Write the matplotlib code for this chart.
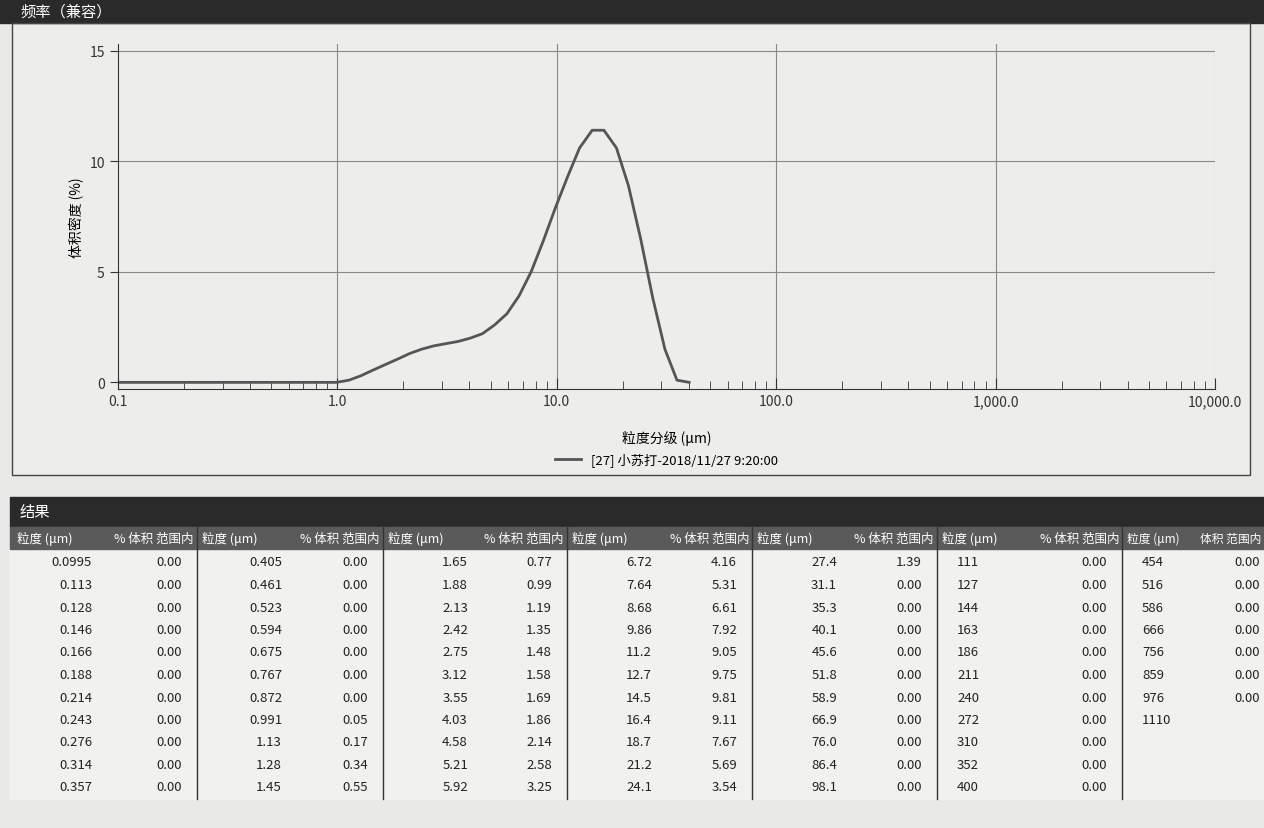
import matplotlib
matplotlib.use("Agg")
import matplotlib.pyplot as plt
import numpy as np
from matplotlib.patches import Rectangle

plt.rcParams['font.family'] = ['Noto Sans CJK SC', 'DejaVu Sans']

curve_x = [0.1, 0.991, 1.13, 1.28, 1.45, 1.65, 1.88, 2.13, 2.42, 2.75, 3.12, 3.55, 4.03, 4.58,
           5.21, 5.92, 6.72, 7.64, 8.68, 9.86, 11.2, 12.7, 14.5, 16.4, 18.7, 21.2, 24.1,
           27.4, 31.1, 35.3, 40.1]
curve_y = [0.0, 0.0, 0.1, 0.3, 0.55, 0.8, 1.05, 1.3, 1.5, 1.65, 1.75, 1.85, 2.0, 2.2,
           2.6, 3.1, 3.9, 5.0, 6.4, 7.9, 9.3, 10.6, 11.4, 11.4, 10.6, 8.9, 6.5,
           3.8, 1.5, 0.1, 0.0]

sizes = ["0.0995","0.113","0.128","0.146","0.166","0.188","0.214","0.243","0.276","0.314","0.357",
         "0.405","0.461","0.523","0.594","0.675","0.767","0.872","0.991","1.13","1.28","1.45",
         "1.65","1.88","2.13","2.42","2.75","3.12","3.55","4.03","4.58","5.21","5.92",
         "6.72","7.64","8.68","9.86","11.2","12.7","14.5","16.4","18.7","21.2","24.1",
         "27.4","31.1","35.3","40.1","45.6","51.8","58.9","66.9","76.0","86.4","98.1",
         "111","127","144","163","186","211","240","272","310","352","400",
         "454","516","586","666","756","859","976","1110"]
pcts = ["0.00"]*18 + ["0.05","0.17","0.34","0.55",
        "0.77","0.99","1.19","1.35","1.48","1.58","1.69","1.86","2.14","2.58","3.25",
        "4.16","5.31","6.61","7.92","9.05","9.75","9.81","9.11","7.67","5.69","3.54",
        "1.39"] + ["0.00"]*21 + ["0.00"]*7 + [""]

W, H = 1264, 829
fig = plt.figure(figsize=(W/100, H/100), dpi=100)
fig.patch.set_facecolor('#e9e9e7')
bg = fig.add_axes([0, 0, 1, 1])
bg.set_xlim(0, W); bg.set_ylim(H, 0); bg.axis('off')

bg.add_patch(Rectangle((0, 0), W, 24, color='#2a2a2a'))
bg.text(20, 12, "频率（兼容）", color='white', fontsize=11, va='center')
bg.add_patch(Rectangle((12, 24), 1238, 452, fill=False, ec='#444', lw=1))
bg.add_patch(Rectangle((12, 24), 1238, 452, color='#ededeb', zorder=-1))

bg.add_patch(Rectangle((10, 498), W, 30, color='#2a2a2a'))
bg.text(20, 513, "结果", color='white', fontsize=11, va='center')
bg.add_patch(Rectangle((10, 528), W, 22, color='#5a5a5a'))
bg.add_patch(Rectangle((10, 550), W, 250, color='#f1f1ef', zorder=-1))
bounds = [12, 197, 383, 567, 752, 937, 1122, 1264]
for gi in range(7):
    x0, x1 = bounds[gi], bounds[gi+1]
    if gi > 0:
        bg.plot([x0, x0], [528, 800], color='#333', lw=1)
    last = gi == 6
    hdr2 = "体积 范围内" if last else "% 体积 范围内"
    fs = 8.5 if last else 9
    bg.text(x0 + 5, 539, "粒度 (μm)", color='white', fontsize=fs, va='center')
    bg.text(x1 - 3, 539, hdr2, color='white', fontsize=fs, va='center', ha='right')
    for r in range(11):
        idx = gi*11 + r
        if idx >= len(sizes):
            break
        y = 563 + r*22.5
        if gi < 3:
            bg.text(x0 + 85 if gi else x0 + 80, y, sizes[idx], fontsize=9.5, ha='right', va='center', color='#222')
        else:
            bg.text(x0 + 20 if gi >= 5 else x0 + 85, y, sizes[idx], fontsize=9.5,
                    ha='left' if gi >= 5 else 'right', va='center', color='#222')
        if pcts[idx]:
            bg.text(x1 - 15 if not last else x1 - 4, y, pcts[idx], fontsize=9.5, ha='right',
                    va='center', color='#222')

ax = fig.add_axes([118/W, 1 - 390/H, (1215-118)/W, (390-45)/H])
ax.set_facecolor('#ededeb')
ax.plot(curve_x, curve_y, color='#555', lw=2, label="[27] 小苏打-2018/11/27 9:20:00")
ax.set_xscale('log')
ax.set_xlim(0.1, 10000)
ax.set_ylim(-0.3, 15.3)
ax.set_yticks([0, 5, 10, 15])
ax.set_xticks([0.1, 1, 10, 100, 1000, 10000])
ax.set_xticklabels(["0.1", "1.0", "10.0", "100.0", "1,000.0", "10,000.0"])
ax.tick_params(axis='x', which='both', direction='in', length=8, labelsize=10, colors='#333')
ax.tick_params(axis='x', which='minor', length=6)
ax.tick_params(axis='y', direction='out', length=6, labelsize=10, colors='#333')
for v in [5, 10, 15]:
    ax.axhline(v, color='#888', lw=0.8, zorder=0)
for v in [1, 10, 100, 1000, 10000]:
    ax.axvline(v, color='#888', lw=0.8, zorder=0)
for s in ['top', 'right']:
    ax.spines[s].set_visible(False)
ax.spines['left'].set_color('#333'); ax.spines['bottom'].set_color('#333')
ax.set_xlabel("粒度分级 (μm)", fontsize=10, labelpad=16)
ax.set_ylabel("体积密度 (%)", fontsize=10)
ax.legend(loc='upper center', bbox_to_anchor=(0.5, -0.165), frameon=False, fontsize=9.5,
          handlelength=2, borderpad=0)

fig.savefig("out.png", dpi=100, facecolor=fig.get_facecolor())
